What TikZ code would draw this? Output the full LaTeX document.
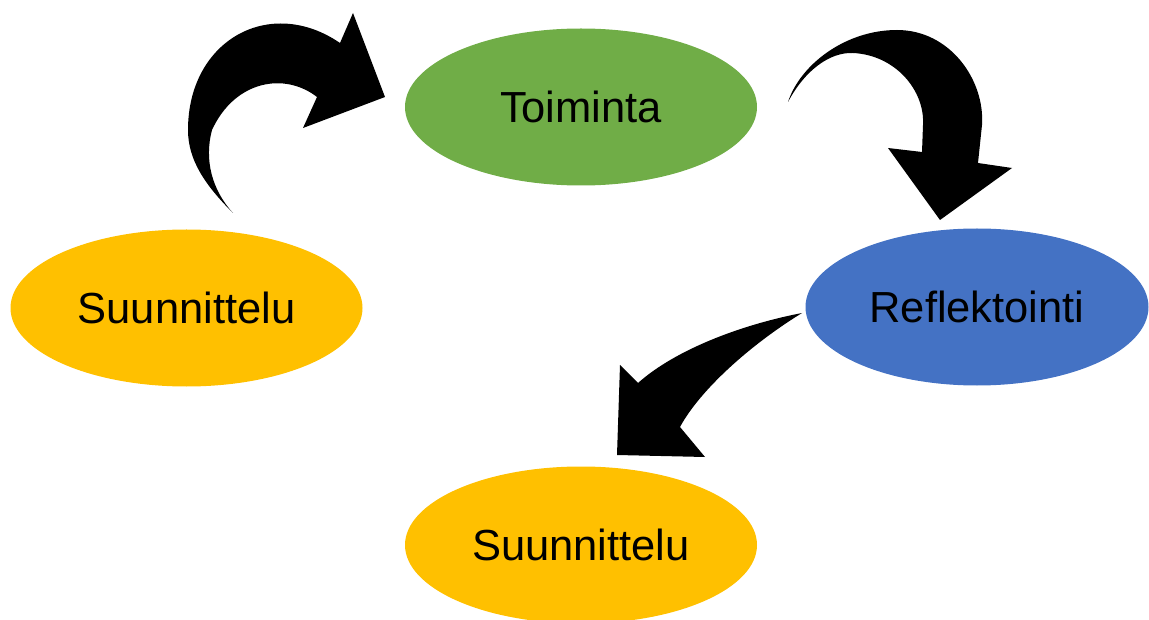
\documentclass[tikz,border=0pt]{standalone}
\usepackage{fontspec}
\setmainfont{Liberation Sans}
\usetikzlibrary{shapes.geometric}
\definecolor{ggreen}{HTML}{70AD47}
\definecolor{gblue}{HTML}{4472C4}
\definecolor{ggold}{HTML}{FFC000}
\tikzset{
  oval/.style={ellipse, minimum width=352pt, minimum height=157pt, inner sep=0pt,
    font=\fontsize{43.5}{50}\selectfont, text=black},
  blockarrow/.style={fill=black, draw=none}
}
\begin{document}
\begin{tikzpicture}[x=1pt,y=-1pt]
\useasboundingbox (0,0) rectangle (1149,620);
\node[oval, fill=ggreen] (toim) at (581,107) {Toiminta};
\node[oval, fill=ggold] (suun1) at (186.5,308) {Suunnittelu};
\node[oval, fill=gblue, minimum width=343pt] (refl) at (977,307) {Reflektointi};
\node[oval, fill=ggold] (suun2) at (581,545) {Suunnittelu};
% arrow 1: suunnittelu -> toiminta
\fill[blockarrow] (233,213) .. controls (205,185) and (188,160) .. (188,130)
  .. controls (188,40) and (270,-5) .. (340,43)
  -- (353,13) -- (385,97) -- (303,128) -- (317,97)
  .. controls (285,72) and (235,80) .. (212,130)
  .. controls (204,160) and (212,190) .. (233,213) -- cycle;
% arrow 2: toiminta -> reflektointi
\fill[blockarrow] (788,102) .. controls (800,65) and (845,30) .. (897,30)
  .. controls (950,30) and (985,80) .. (982,125)
  -- (978,163) -- (1012,168) -- (940,220) -- (888,148) -- (922,152)
  -- (923,125) .. controls (925,90) and (895,55) .. (853,53)
  .. controls (830,52) and (805,70) .. (788,102) -- cycle;
% arrow 3: reflektointi -> suunnittelu
\fill[blockarrow] (802,313) .. controls (740,325) and (675,350) .. (638,383)
  -- (620,365) -- (617,455) -- (705,457) -- (680,427)
  .. controls (700,390) and (750,345) .. (802,313) -- cycle;
\end{tikzpicture}
\end{document}
